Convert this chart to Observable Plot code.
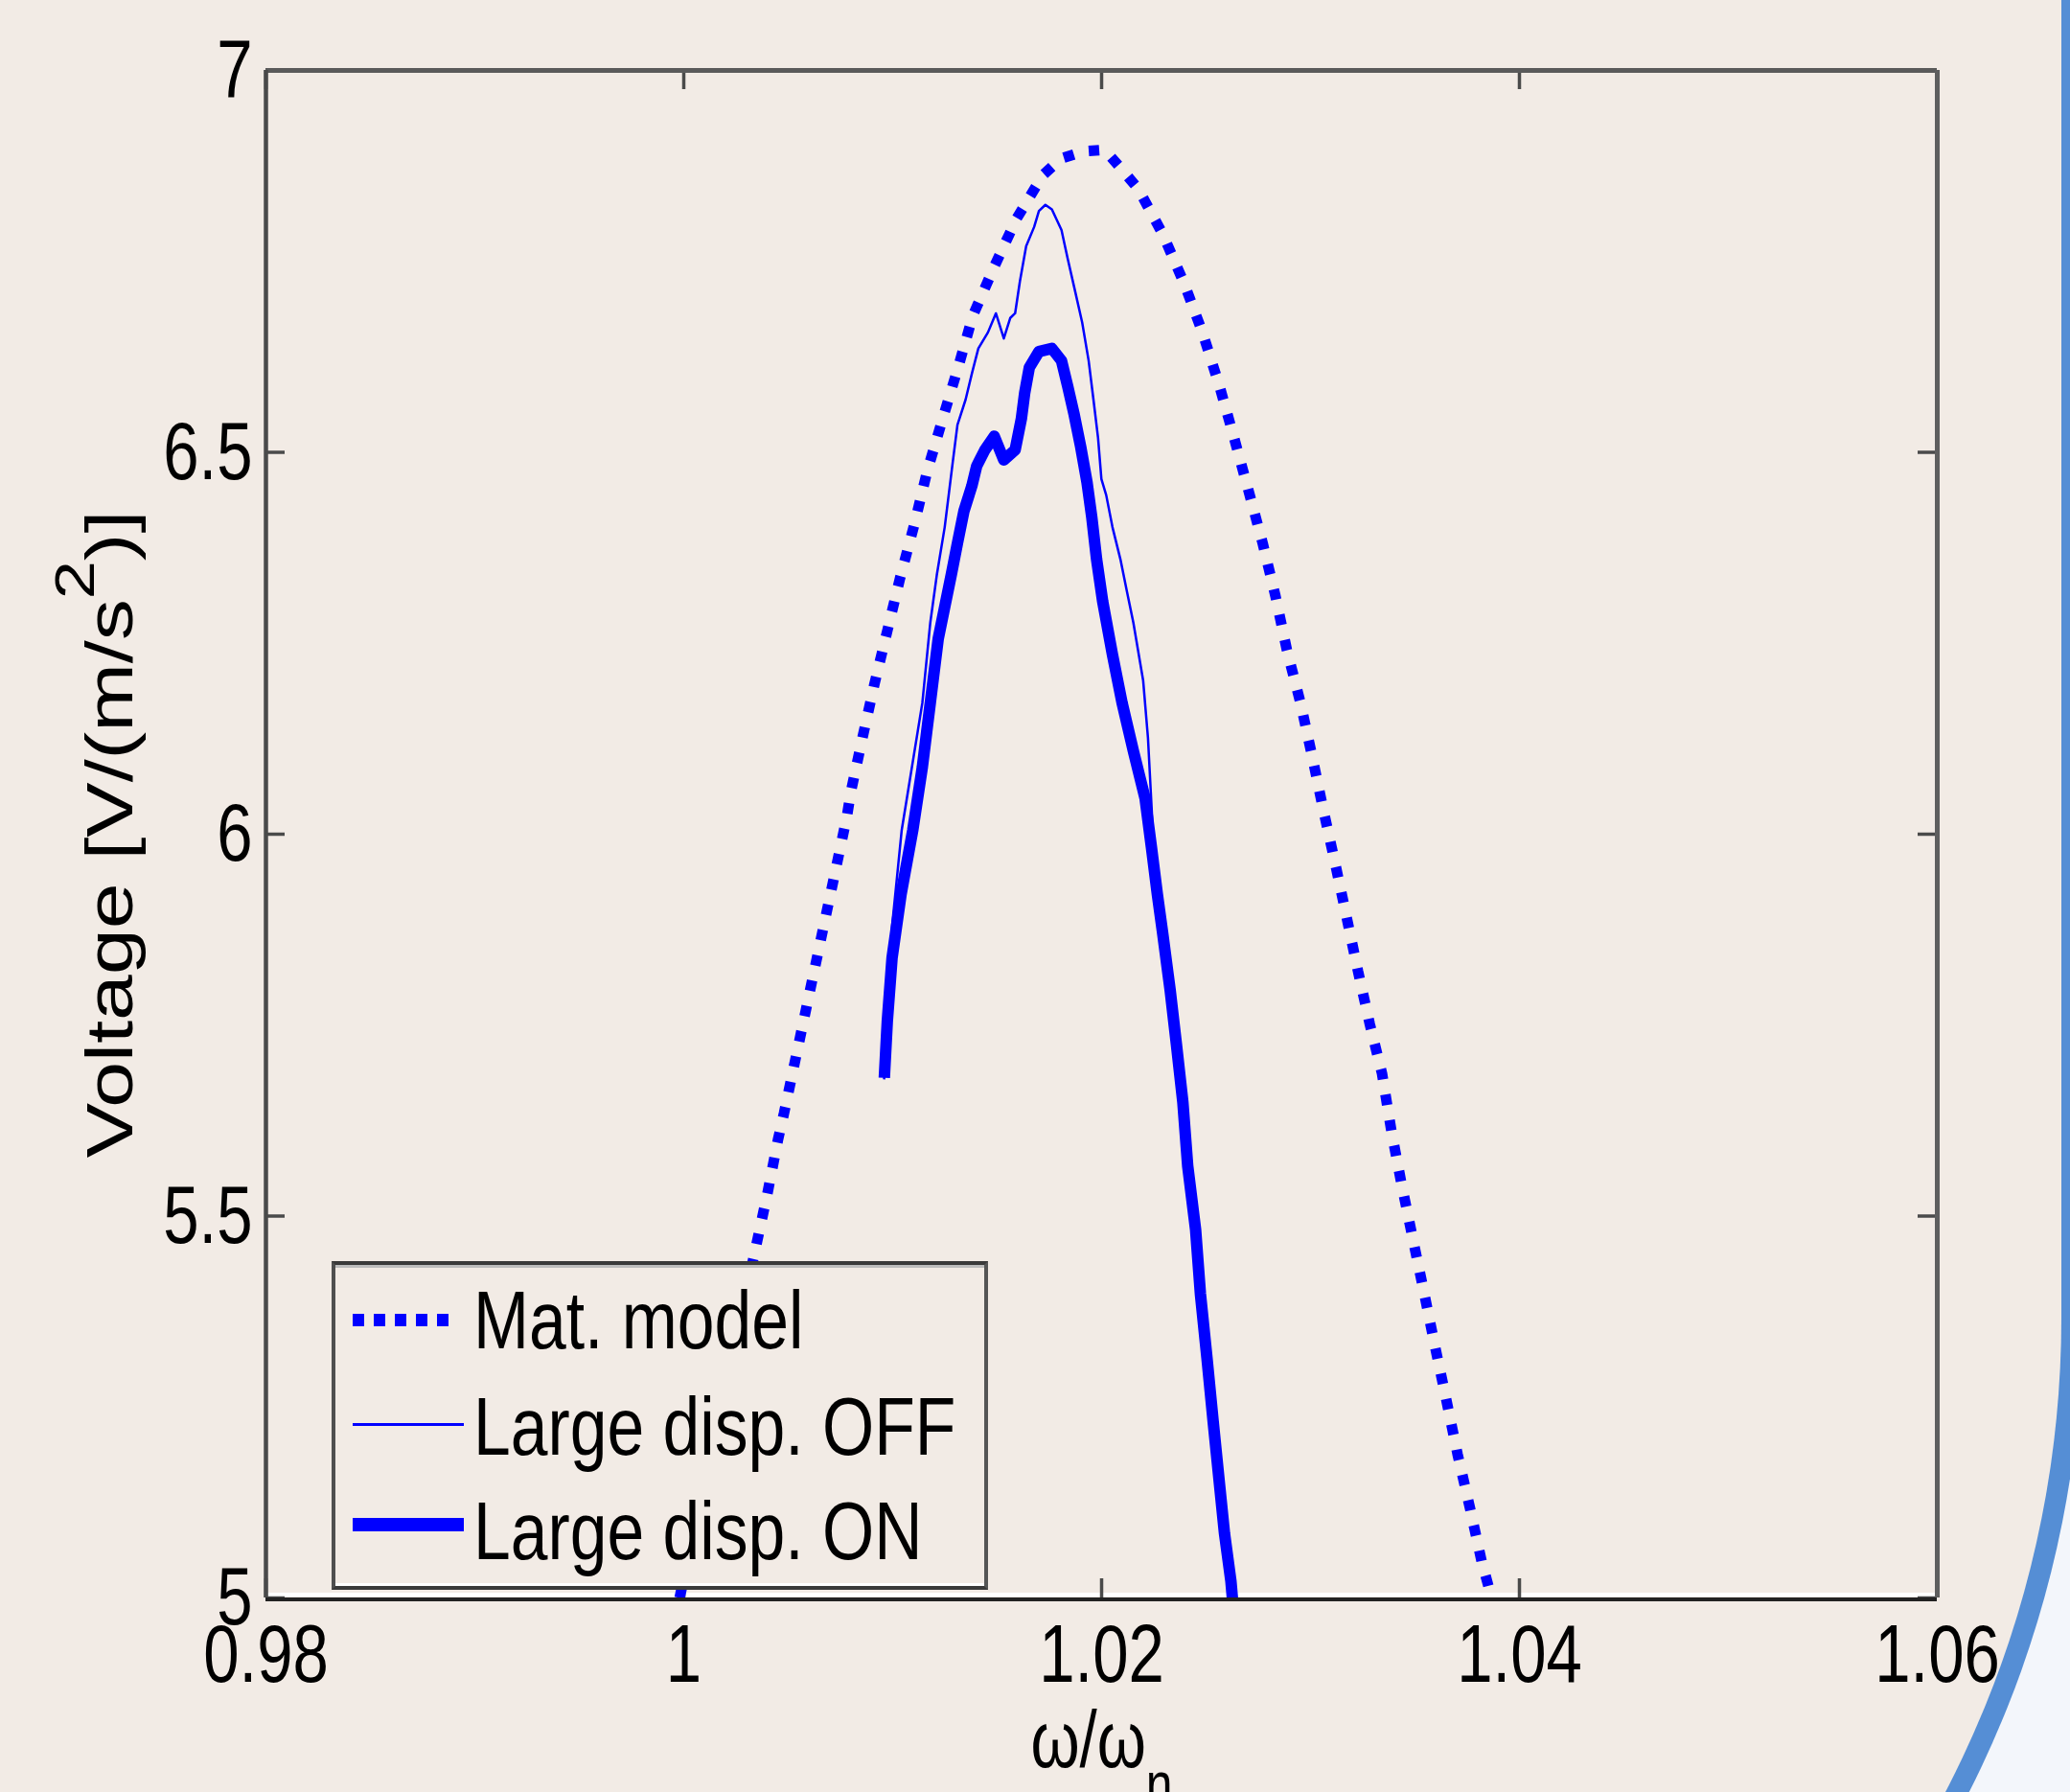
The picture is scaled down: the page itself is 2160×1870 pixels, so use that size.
<!DOCTYPE html>
<html>
<head>
<meta charset="utf-8">
<script src="https://cdn.jsdelivr.net/npm/d3@7"></script>
<script src="https://cdn.jsdelivr.net/npm/@observablehq/plot@0.6"></script>
<style>
html, body { margin: 0; padding: 0; }
body { width: 2160px; height: 1870px; overflow: hidden; position: relative; background: #F3F6FB;
       font-family: "Liberation Sans", Arial, Helvetica, sans-serif; }
#slide { position: absolute; left: -1000px; top: -1100px; width: 3151px; height: 3548px;
         background: #F2EBE5; border-right: 22px solid #558ED5; border-bottom: 22px solid #558ED5;
         border-bottom-right-radius: 1095px; }
#chart { position: absolute; left: 0; top: 0; width: 2160px; height: 1870px; }
#legend { position: absolute; left: 346px; top: 1316px; width: 685px; height: 343px; box-sizing: border-box;
          border: 4px solid #3a3a3a; border-left-color: #4f4f4f; border-right-color: #555;
          background: #F2EBE5; box-shadow: inset 0 3px 0 #bdbdbd, inset 0 -3px 0 #ffffff; }
.item-text { position: absolute; left: 144px; font-size: 86px; line-height: 86px; white-space: nowrap;
             color: #000; transform: scaleX(0.81); transform-origin: 0 0; }
.sample { position: absolute; left: 18px; }
</style>
</head>
<body>
<div id="slide"></div>
<div id="chart"></div>
<div id="legend"></div>
<script>
// ---- data ----
const xTicks = [0.98, 1.00, 1.02, 1.04, 1.06];
const xTickLabels = ["0.98", "1", "1.02", "1.04", "1.06"];
const yTicks = [5, 5.5, 6, 6.5, 7];
const yTickLabels = ["5", "5.5", "6", "6.5", "7"];

const seriesNames = ["Mat. model", "Large disp. OFF", "Large disp. ON"];

const xLabelMain = "ω/ω";
const xLabelSub = "n";
const yLabelMain = "Voltage [V/(m/s";
const yLabelSup = "2";
const yLabelEnd = ")]";

// Mat. model (dotted)
const modelX = [0.9998, 1.00344, 1.00400, 1.00451, 1.00480, 1.00780, 1.00801, 1.00856, 1.00913, 1.00974,
  1.01035, 1.01104, 1.01165, 1.01237, 1.01313, 1.01384, 1.01486, 1.01593, 1.01719, 1.01808,
  1.01915, 1.02014, 1.02095, 1.02175, 1.02294, 1.02397, 1.02484, 1.02565, 1.02634, 1.02703,
  1.02771, 1.02832, 1.02887, 1.02952, 1.03007, 1.03062, 1.03117, 1.03173, 1.03227, 1.03284,
  1.03342, 1.03388, 1.03437, 1.03490, 1.03544, 1.03597, 1.03651, 1.03704, 1.03763, 1.03819, 1.03867];
const modelY = [5.000, 5.458, 5.529, 5.600, 5.635, 6.022, 6.057, 6.127, 6.197, 6.266,
  6.335, 6.406, 6.475, 6.542, 6.611, 6.679, 6.743, 6.806, 6.863, 6.885,
  6.894, 6.896, 6.871, 6.845, 6.785, 6.720, 6.656, 6.586, 6.519, 6.450,
  6.381, 6.312, 6.241, 6.172, 6.103, 6.031, 5.963, 5.891, 5.821, 5.751,
  5.687, 5.610, 5.540, 5.470, 5.399, 5.328, 5.258, 5.188, 5.118, 5.048, 5.000];

// Large disp. OFF (thin)
const offX = [1.00959, 1.00997, 1.01043, 1.01142, 1.01180, 1.01211, 1.01249, 1.01287, 1.01310, 1.01349,
  1.01379, 1.01410, 1.01456, 1.01494, 1.01532, 1.01563, 1.01586, 1.01609, 1.01639, 1.01677,
  1.01700, 1.01731, 1.01762, 1.01808, 1.01838, 1.01869, 1.01907, 1.01938, 1.01961, 1.01983,
  1.01999, 1.02022, 1.02052, 1.02090, 1.02121, 1.02152, 1.02199, 1.02222, 1.02245, 1.02273,
  1.02309, 1.02341, 1.02372, 1.02401, 1.02424, 1.02456, 1.02479, 1.02507, 1.02533, 1.02556,
  1.02594, 1.02625, 1.02635];
const offY = [5.679, 5.879, 6.005, 6.172, 6.277, 6.339, 6.402, 6.486, 6.536, 6.569,
  6.603, 6.636, 6.657, 6.682, 6.649, 6.676, 6.682, 6.724, 6.770, 6.795,
  6.816, 6.824, 6.818, 6.791, 6.753, 6.716, 6.670, 6.620, 6.569, 6.519,
  6.465, 6.444, 6.402, 6.360, 6.318, 6.277, 6.201, 6.126, 6.005, 5.921,
  5.858, 5.796, 5.733, 5.649, 5.587, 5.482, 5.398, 5.315, 5.231, 5.147,
  5.085, 5.030, 5.000];

// Large disp. ON (thick)
const onX = [1.00960, 1.00974, 1.00997, 1.01040, 1.01096, 1.01142, 1.01180, 1.01218, 1.01280, 1.01310,
  1.01341, 1.01379, 1.01402, 1.01441, 1.01486, 1.01532, 1.01586, 1.01616, 1.01632, 1.01654,
  1.01700, 1.01762, 1.01808, 1.01838, 1.01869, 1.01900, 1.01930, 1.01953, 1.01976, 1.02005,
  1.02052, 1.02098, 1.02152, 1.02208, 1.02238, 1.02267, 1.02293, 1.02328, 1.02358, 1.02389,
  1.02412, 1.02450, 1.02473, 1.02504, 1.02534, 1.02565, 1.02588, 1.02619, 1.02626];
const onY = [5.681, 5.754, 5.838, 5.921, 6.005, 6.088, 6.172, 6.256, 6.339, 6.381,
  6.423, 6.456, 6.482, 6.503, 6.521, 6.490, 6.503, 6.544, 6.578, 6.611,
  6.632, 6.636, 6.620, 6.586, 6.549, 6.507, 6.461, 6.415, 6.360, 6.305,
  6.235, 6.172, 6.109, 6.047, 5.984, 5.921, 5.869, 5.796, 5.725, 5.649,
  5.566, 5.482, 5.398, 5.315, 5.231, 5.147, 5.085, 5.022, 5.000];

// ---- build ----
const toRows = (xs, ys) => xs.map((x, i) => ({x, y: ys[i]}));
const model = toRows(modelX, modelY);
const off = toRows(offX, offY);
const on = toRows(onX, onY);
const xTickData = xTicks.map((v, i) => ({v, label: xTickLabels[i]}));
const yTickData = yTicks.map((v, i) => ({v, label: yTickLabels[i]}));

const W = 2160, H = 1870, mL = 277, mR = 139, mT = 73, mB = 203;
const innerW = W - mL - mR, innerH = H - mT - mB;
const tickLen = 20;
const font = "Liberation Sans, Arial, Helvetica, sans-serif";
const blue = "#0000FF";
const tickColor = "#4a4a4a";

const chart = Plot.plot({
  width: W, height: H,
  marginLeft: mL, marginRight: mR, marginTop: mT, marginBottom: mB,
  x: {type: "linear", domain: [0.98, 1.06], axis: null},
  y: {type: "linear", domain: [5, 7], axis: null},
  style: {background: "transparent", overflow: "visible"},
  marks: [
    Plot.ruleY([5], {stroke: "#ffffff", strokeWidth: 4, dy: -3.5}),
    Plot.ruleX(xTicks, {stroke: tickColor, strokeWidth: 3.5, insetTop: innerH - tickLen}),
    Plot.ruleX(xTicks, {stroke: tickColor, strokeWidth: 3.5, insetBottom: innerH - tickLen}),
    Plot.ruleY(yTicks, {stroke: tickColor, strokeWidth: 3.5, insetRight: innerW - tickLen}),
    Plot.ruleY(yTicks, {stroke: tickColor, strokeWidth: 3.5, insetLeft: innerW - tickLen}),
    Plot.line(model, {x: "x", y: "y", stroke: blue, strokeWidth: 11, strokeDasharray: "11,16",
                      strokeLinecap: "butt", strokeLinejoin: "miter"}),
    Plot.line(off, {x: "x", y: "y", stroke: blue, strokeWidth: 2.5, strokeLinecap: "butt"}),
    Plot.line(on, {x: "x", y: "y", stroke: blue, strokeWidth: 12, strokeLinecap: "butt"}),
    Plot.ruleY([7], {stroke: "#5a5a5a", strokeWidth: 5}),
    Plot.ruleX([0.98], {stroke: "#4a4a4a", strokeWidth: 4.5}),
    Plot.ruleX([1.06], {stroke: "#5e5e5e", strokeWidth: 5}),
    Plot.ruleY([5], {stroke: "#222222", strokeWidth: 4, dy: 1.5}),
    Plot.text(xTickData, {x: "v", text: "label", frameAnchor: "bottom", dy: 26, lineAnchor: "top",
                          textAnchor: "middle", fontSize: 86, fontFamily: font, fill: "#000"}),
    Plot.text(yTickData, {y: "v", text: "label", frameAnchor: "left", dx: -14, lineAnchor: "middle",
                          textAnchor: "end", fontSize: 86, fontFamily: font, fill: "#000"}),
    Plot.text([xLabelMain], {text: d => d, frameAnchor: "bottom", dy: 176, lineAnchor: "bottom",
                             textAnchor: "middle", fontSize: 84, fontFamily: font, fill: "#000"}),
    Plot.text([yLabelMain], {text: d => d, frameAnchor: "left", dx: -140, rotate: -90, lineAnchor: "bottom",
                             textAnchor: "middle", fontSize: 86, fontFamily: font, fill: "#000"})
  ]
});

// narrow the glyphs like the (horizontally squeezed) original
const NS = "http://www.w3.org/2000/svg";
chart.querySelectorAll("text").forEach(t => {
  let tr = t.getAttribute("transform");
  if (tr == null) {
    const x = parseFloat(t.getAttribute("x")) || 0;
    tr = `translate(${x},0)`;
    t.removeAttribute("x");
  }
  t.setAttribute("transform", tr + (tr.includes("rotate") ? " scale(1,0.8)" : " scale(0.78,1)"));
});
function addTspan(t, str, dy, fs) {
  const s = document.createElementNS(NS, "tspan");
  s.textContent = str;
  if (dy) s.setAttribute("dy", dy);
  if (fs) s.setAttribute("font-size", fs);
  t.appendChild(s);
}
const allTexts = Array.from(chart.querySelectorAll("text"));
const yl = allTexts.find(t => t.textContent === yLabelMain);
if (yl) { addTspan(yl, yLabelSup, -50, 72); addTspan(yl, yLabelEnd, 50, null); }
const xl = allTexts.find(t => t.textContent === xLabelMain);
if (xl) { addTspan(xl, xLabelSub, 40, 64); }

document.getElementById("chart").appendChild(chart);

// ---- legend (inside the axes, upper-left of lower area) ----
const legend = document.getElementById("legend");
const samples = [
  {top: 50.5, width: 102, height: 13, bg: `repeating-linear-gradient(to right, ${blue} 0px, ${blue} 12px, transparent 12px, transparent 22px)`},
  {top: 164.5, width: 116, height: 3, bg: blue},
  {top: 264, width: 116, height: 14, bg: blue}
];
const textTops = [14, 125, 234];
seriesNames.forEach((name, i) => {
  const s = document.createElement("div");
  s.className = "sample";
  s.style.top = samples[i].top + "px";
  s.style.width = samples[i].width + "px";
  s.style.height = samples[i].height + "px";
  s.style.background = samples[i].bg;
  legend.appendChild(s);
  const t = document.createElement("div");
  t.className = "item-text";
  t.style.top = textTops[i] + "px";
  t.textContent = name;
  legend.appendChild(t);
});
</script>
</body>
</html>
